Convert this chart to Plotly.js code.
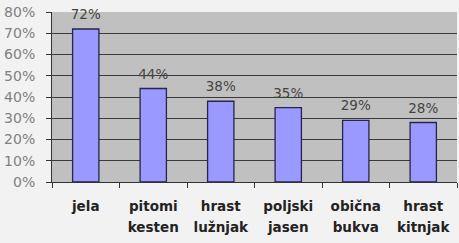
<!DOCTYPE html>
<html><head><meta charset="utf-8">
<script src="https://cdn.plot.ly/plotly-3.0.1.min.js"></script>
<style>body{margin:0;background:#f2f2f2}</style>
</head><body>
<div id="chart" style="width:459px;height:243px"></div>
<script>
const categories = ["jela", "pitomi kesten", "hrast lužnjak", "poljski jasen", "obična bukva", "hrast kitnjak"];
const labelLine1 = ["jela", "pitomi", "hrast", "poljski", "obična", "hrast"];
const labelLine2 = ["", "kesten", "lužnjak", "jasen", "bukva", "kitnjak"];
const values = [72, 44, 38, 35, 29, 28];
const labels = ["72%", "44%", "38%", "35%", "29%", "28%"];
const yTicks = [0, 10, 20, 30, 40, 50, 60, 70, 80];
const yTickLabels = ["0%", "10%", "20%", "30%", "40%", "50%", "60%", "70%", "80%"];

const traces = [
  {
    type: "bar", x: categories, y: values,
    marker: {color: "#9999ff", line: {color: "#25254f", width: 1.3}},
    hoverinfo: "none"
  },
  {
    type: "scatter", mode: "markers+text", x: categories, y: values, text: labels,
    xaxis: "x2",
    textposition: "top center",
    marker: {size: 9, opacity: 0},
    textfont: {family: "DejaVu Sans", size: 13.5, color: "#444"},
    cliponaxis: false, hoverinfo: "none"
  }
];

const xFont = {family: "DejaVu Sans", size: 13.5, color: "#222", weight: "bold"};

const layout = {
  width: 459, height: 243,
  margin: {l: 52, r: 2, t: 12, b: 61},
  paper_bgcolor: "#f2f2f2",
  plot_bgcolor: "#c0c0c0",
  showlegend: false,
  bargap: 0.61,
  xaxis: {
    type: "category",
    tickvals: categories, ticktext: labelLine1,
    tickson: "boundaries",
    ticks: "outside", ticklen: 5, tickcolor: "#333",
    showline: true, linecolor: "#333", linewidth: 1,
    showgrid: false,
    ticklabelstandoff: 12,
    tickfont: xFont,
    fixedrange: true
  },
  xaxis2: {
    type: "category",
    matches: "x", overlaying: "x", side: "bottom", anchor: "y",
    tickvals: categories, ticktext: labelLine2,
    ticks: "", showline: false, showgrid: false,
    ticklabelstandoff: 35,
    tickfont: xFont,
    fixedrange: true
  },
  yaxis: {
    range: [0, 80],
    tickvals: yTicks, ticktext: yTickLabels,
    ticks: "outside", ticklen: 5, tickcolor: "#333",
    showline: true, linecolor: "#333", linewidth: 1,
    showgrid: true, gridcolor: "#3a3a3a", gridwidth: 1,
    zeroline: false,
    ticklabelstandoff: 8,
    tickfont: {family: "DejaVu Sans", size: 14, color: "#808080"},
    fixedrange: true
  }
};

Plotly.newPlot("chart", traces, layout, {displayModeBar: false, staticPlot: true});
</script>
</body></html>
